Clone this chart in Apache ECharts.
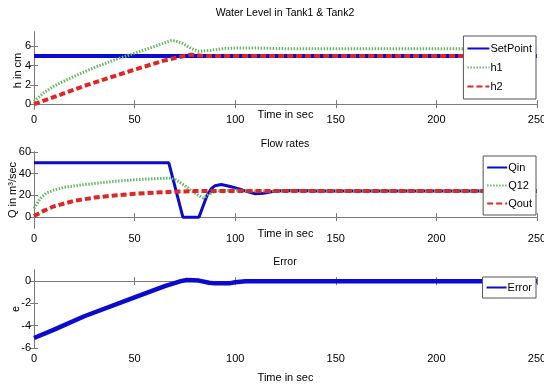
<!DOCTYPE html>
<html>
<head>
<meta charset="utf-8">
<script src="https://cdn.jsdelivr.net/npm/echarts@6/dist/echarts.min.js"></script>
<style>
  html, body { margin: 0; padding: 0; background: #fff; }
  #main { width: 544px; height: 385px; }
</style>
</head>
<body>
<div id="main"></div>
<script>
var FONT = "'Liberation Sans Narrow', 'Liberation Sans', Arial, sans-serif"

// shared time axis
var xTicks = [0, 50, 100, 150, 200, 250]

// plot 1 - water level
var hTicks = [0, 2, 4, 6]
var setPointT = [0, 250]
var setPoint = [5, 5]
var h1T = [0, 5, 10, 20, 30, 40, 50, 60, 68, 70, 74, 78, 82, 88, 95, 105, 130, 250]
var h1 = [0.3, 1.2, 1.9, 2.9, 3.8, 4.6, 5.3, 6.0, 6.6, 6.6, 6.3, 5.8, 5.5, 5.6, 5.8, 5.85, 5.75, 5.75]
var h2T = [0, 10, 25, 50, 65, 72, 78, 85, 250]
var h2 = [0, 0.75, 1.9, 3.6, 4.55, 4.9, 5.15, 5.0, 5.0]

// plot 2 - flow rates
var qTicks = [0, 20, 40, 60]
var qinT = [0, 67, 74, 82, 84, 86, 88, 90, 93, 97, 102, 106, 110, 114, 120, 130, 140, 250]
var qin = [50, 50, 0, 0, 10, 20, 26, 29, 30, 28.5, 26, 23.5, 21.5, 22, 24, 24.5, 24, 24]
var q12T = [0, 3, 6, 10, 15, 25, 40, 55, 67, 70, 75, 80, 84, 87, 90, 100, 110, 250]
var q12 = [8, 17, 22, 25, 27.5, 30, 33, 35, 36, 35, 29, 22, 17.5, 21, 24, 25, 24, 24]
var qoutT = [0, 5, 10, 20, 30, 40, 50, 60, 70, 80, 250]
var qout = [1, 6, 10, 15, 18, 20, 21.5, 22.5, 23.5, 24, 24]

// plot 3 - error
var eTicks = [-6, -4, -2, 0]
var errT = [0, 10, 25, 50, 65, 73, 76, 82, 87, 90, 97, 100, 105, 150, 250]
var err = [-5.1, -4.35, -3.15, -1.45, -0.45, 0, 0.1, 0.05, -0.15, -0.2, -0.2, -0.1, 0, 0, 0]

function pairs (t, v) {
  return t.map(function (x, i) { return [x, v[i]] })
}

var BLUE = '#0a0ad2'
var GREEN = '#66b866'
var RED = '#e02525'
var AXIS = '#7a7a7a'

var grids = [
  { left: 34, right: 7, top: 32, height: 77, outerBoundsMode: 'none' },
  { left: 34, right: 7, top: 152, height: 76, outerBoundsMode: 'none' },
  { left: 34, right: 7, top: 270, height: 78, outerBoundsMode: 'none' }
]
var yRanges = [[-0.5, 7.5], [-10, 60], [-6, 1]]
var yTickSets = [hTicks, qTicks, eTicks]
var yNames = ['h in cm', 'Q in m\u00b3/sec', 'e']
var yNameGaps = [11, 16, 13]
var xNameGaps = [0, 0, 24]
var titles = ['Water Level in Tank1 & Tank2', 'Flow rates', 'Error']
var titleTops = [8, 139, 257]

var xAxes = []
var yAxes = []
for (var g = 0; g < 3; g++) {
  // bottom axis with labels
  xAxes.push({
    gridIndex: g, type: 'value', min: 0, max: 250,
    name: 'Time in sec', nameLocation: 'middle', nameGap: xNameGaps[g], nameMoveOverlap: false,
    nameTextStyle: { color: '#000', fontFamily: FONT, fontSize: 11 },
    axisLine: { show: true, lineStyle: { color: AXIS } },
    axisTick: { show: true, inside: true, length: 4, customValues: xTicks, lineStyle: { color: AXIS } },
    axisLabel: { color: '#000', fontFamily: FONT, fontSize: 11, margin: 5, customValues: xTicks },
    splitLine: { show: false }
  })
  // left axis with labels
  yAxes.push({
    gridIndex: g, type: 'value', min: yRanges[g][0], max: yRanges[g][1],
    name: yNames[g], nameLocation: 'middle', nameGap: yNameGaps[g], nameMoveOverlap: false,
    nameTextStyle: { color: '#000', fontFamily: FONT, fontSize: 11 },
    axisLine: { show: true, lineStyle: { color: AXIS } },
    axisTick: { show: true, inside: true, length: 4, customValues: yTickSets[g], lineStyle: { color: AXIS } },
    axisLabel: { color: '#000', fontFamily: FONT, fontSize: 11, margin: 3, customValues: yTickSets[g] },
    splitLine: { show: false }
  })
}
// top / right axes just close the box and carry the inner ticks
for (g = 0; g < 3; g++) {
  xAxes.push({
    gridIndex: g, type: 'value', min: 0, max: 250, position: 'top',
    axisLine: { show: true, lineStyle: { color: AXIS } },
    axisTick: { show: true, inside: true, length: 4, customValues: xTicks, lineStyle: { color: AXIS } },
    axisLabel: { show: false },
    splitLine: { show: false }
  })
  yAxes.push({
    gridIndex: g, type: 'value', min: yRanges[g][0], max: yRanges[g][1], position: 'right',
    axisLine: { show: true, lineStyle: { color: AXIS } },
    axisTick: { show: true, inside: true, length: 4, customValues: yTickSets[g], lineStyle: { color: AXIS } },
    axisLabel: { show: false },
    splitLine: { show: false }
  })
}

function line (name, g, data, color, width, type) {
  return {
    name: name, type: 'line', xAxisIndex: g, yAxisIndex: g,
    data: data, symbol: 'none', animation: false,
    lineStyle: { color: color, width: width, type: type || 'solid' },
    itemStyle: { color: color }
  }
}

function legend (names, top, right, gap, pad, iw) {
  return {
    data: names, orient: 'vertical', top: top, right: right,
    itemGap: gap, itemWidth: iw, itemHeight: 12, padding: pad,
    itemStyle: { opacity: 0 },
    backgroundColor: '#fff', borderColor: '#555', borderWidth: 1, borderRadius: 0,
    textStyle: { color: '#000', fontFamily: FONT, fontSize: 11, padding: [0, 0, 0, -4] }
  }
}

var option = {
  backgroundColor: '#fff',
  animation: false,
  title: titles.map(function (t, i) {
    return {
      text: t, left: 285, top: titleTops[i], textAlign: 'center', padding: 0,
      textStyle: { color: '#000', fontFamily: FONT, fontSize: 10.5, fontWeight: 'normal' }
    }
  }),
  grid: grids,
  xAxis: xAxes,
  yAxis: yAxes,
  legend: [
    legend(['SetPoint', 'h1', 'h2'], 36, 8, 8, [7, 4, 7, 3], 22),
    legend(['Qin', 'Q12', 'Qout'], 156, 8, 7, [6, 4, 6, 3], 20),
    legend(['Error'], 277, 8, 7, [5, 4, 5, 3], 20)
  ],
  series: [
    line('SetPoint', 0, pairs(setPointT, setPoint), BLUE, 4),
    line('h1', 0, pairs(h1T, h1), GREEN, 3, [1.5, 1.5]),
    line('h2', 0, pairs(h2T, h2), RED, 4, [6, 3]),
    line('Qin', 1, pairs(qinT, qin), BLUE, 3),
    line('Q12', 1, pairs(q12T, q12), GREEN, 3, [1.5, 1.5]),
    line('Qout', 1, pairs(qoutT, qout), RED, 4, [6, 3]),
    line('Error', 2, pairs(errT, err), BLUE, 4.5)
  ]
}

var chart = echarts.init(document.getElementById('main'))
chart.setOption(option)
</script>
</body>
</html>
